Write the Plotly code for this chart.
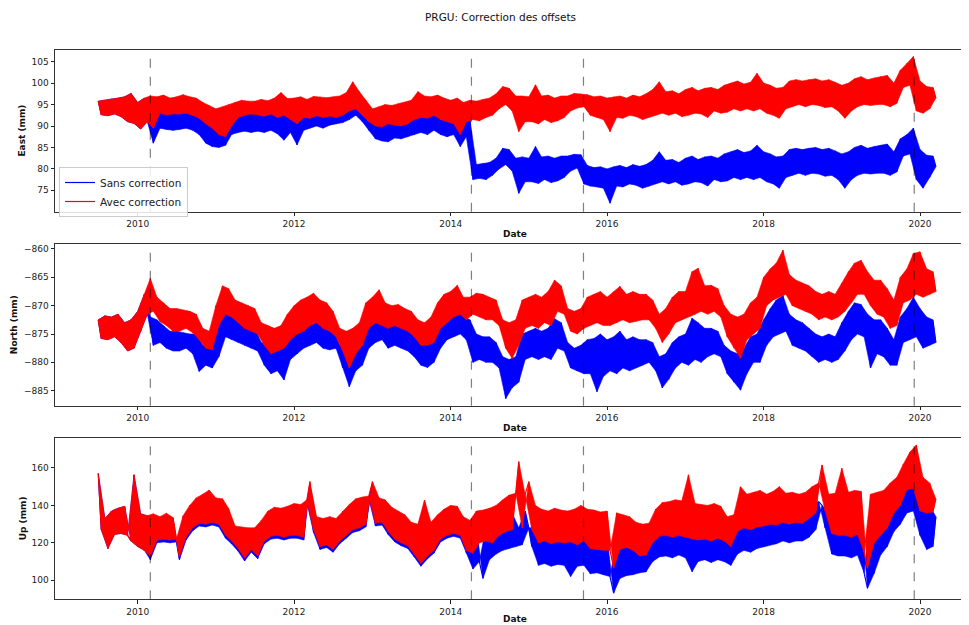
import pandas as pd
import plotly.graph_objects as go

# ---------------- data ----------------
title_text = "PRGU: Correction des offsets"
series_start = "2009-07-01"          # semi-monthly samples (1st and 15th), alternating high / low readings
n_points = 258
offset_dates = ["2010-03-01", "2014-04-08", "2015-09-13", "2019-12-05"]
x_tick_years = [2010, 2012, 2014, 2016, 2018, 2020]
east_ticks = [75, 80, 85, 90, 95, 100, 105]
north_ticks = [-885, -880, -875, -870, -865, -860]
up_ticks = [100, 120, 140, 160]

east_avec = [
    95.8, 92.6, 96.0, 92.4, 96.3, 92.8, 96.5, 92.2, 96.8, 91.0, 97.6, 90.6,
    95.5, 89.3, 96.5, 91.0, 97.0, 89.5, 96.8, 93.0, 97.2, 92.6, 96.5, 92.8,
    96.8, 92.8, 97.3, 93.0, 96.8, 92.5, 96.5, 91.8, 95.5, 90.5, 94.8, 89.5,
    94.0, 88.0, 94.5, 87.5, 95.0, 90.0, 95.5, 92.0, 96.0, 92.5, 95.8, 92.8,
    95.8, 92.6, 96.2, 92.3, 95.9, 92.8, 96.5, 92.0, 97.8, 92.5, 96.4, 91.5,
    96.5, 90.5, 96.8, 92.0, 96.2, 91.8, 96.9, 92.4, 96.8, 92.0, 96.6, 92.3,
    96.8, 92.0, 97.0, 92.5, 97.8, 93.5, 100.3, 94.0, 98.0, 92.5, 96.0, 91.0,
    94.0, 90.0, 94.5, 89.8, 95.0, 90.5, 94.8, 90.2, 95.2, 90.0, 95.5, 90.5,
    96.0, 91.5, 98.0, 92.0, 97.0, 91.8, 96.8, 92.5, 97.2, 91.5, 96.5, 91.0,
    96.0, 90.5, 96.5, 88.0, 95.5, 91.0, 96.0, 91.5, 95.8, 91.2, 96.2, 92.0,
    96.5, 92.5, 97.5, 94.0, 99.2, 95.0, 98.8, 93.5, 97.0, 88.7, 97.0, 91.0,
    96.8, 91.0, 99.6, 90.5, 97.0, 91.5, 97.2, 90.8, 96.5, 91.2, 97.0, 92.0,
    97.0, 93.5, 97.6, 94.2, 97.5, 94.5, 97.3, 92.5, 96.8, 92.0, 97.0, 91.5,
    96.5, 88.7, 96.8, 92.0, 97.0, 91.8, 96.5, 92.5, 97.2, 92.2, 96.8, 91.5,
    97.5, 92.0, 98.5, 92.5, 100.3, 93.0, 98.0, 92.5, 98.2, 93.0, 97.5, 92.2,
    98.5, 92.5, 99.0, 93.0, 98.2, 92.8, 98.8, 92.0, 99.0, 93.5, 98.5, 93.0,
    99.5, 93.2, 100.0, 94.0, 100.5, 93.5, 99.8, 94.0, 100.2, 93.5, 102.3, 94.0,
    100.0, 93.0, 99.5, 92.5, 98.8, 91.8, 99.0, 94.0, 100.5, 94.5, 100.8, 95.0,
    100.5, 94.5, 100.8, 95.0, 101.0, 94.8, 100.5, 94.3, 100.8, 94.5, 100.2, 93.5,
    99.5, 91.8, 100.0, 93.5, 101.0, 94.5, 101.5, 95.0, 100.8, 94.8, 101.2, 95.0,
    101.5, 95.0, 101.8, 94.5, 100.0, 95.3, 103.0, 99.0, 104.6, 99.5, 106.2, 93.5,
    100.5, 93.0, 99.2, 94.0, 99.0, 96.5,
]

east_sans = [
    95.8, 92.6, 96.0, 92.4, 96.3, 92.8, 96.5, 92.2, 96.8, 91.0, 97.6, 90.6,
    95.5, 89.3, 96.5, 91.0, 93.5, 86.0, 93.2, 89.5, 93.0, 89.2, 93.5, 89.0,
    93.5, 89.2, 94.0, 89.5, 93.2, 89.0, 92.5, 88.0, 91.5, 86.0, 90.5, 85.2,
    90.0, 85.0, 90.5, 85.5, 91.5, 88.0, 92.5, 88.5, 93.0, 88.8, 92.8, 88.5,
    92.8, 88.8, 93.0, 88.5, 92.5, 89.0, 93.2, 88.2, 93.5, 86.7, 93.0, 88.5,
    93.0, 85.6, 93.5, 89.0, 93.2, 89.5, 93.8, 90.0, 93.5, 89.5, 93.4, 90.2,
    93.5, 90.5, 93.8, 90.8, 94.5, 91.5, 95.8, 92.5, 95.0, 91.0, 93.2, 89.0,
    91.0, 87.0, 91.5, 86.5, 91.2, 86.3, 91.0, 87.2, 91.5, 87.0, 92.0, 87.5,
    92.5, 88.0, 94.0, 88.5, 93.5, 88.0, 93.7, 89.0, 93.0, 88.0, 92.5, 87.5,
    92.5, 88.0, 92.0, 85.2, 92.3, 87.5, 91.5, 77.5, 81.0, 77.8, 81.3, 77.5,
    81.5, 78.5, 82.5, 80.0, 84.8, 81.0, 84.5, 79.5, 82.5, 74.3, 82.8, 77.0,
    82.5, 77.0, 85.2, 76.6, 82.8, 77.5, 83.0, 76.8, 82.5, 77.2, 83.0, 78.0,
    83.0, 79.5, 83.4, 80.2, 83.3, 76.5, 80.8, 76.0, 80.3, 75.8, 80.5, 75.5,
    80.0, 72.0, 80.5, 76.0, 80.8, 75.8, 80.3, 76.5, 81.0, 76.2, 80.6, 75.5,
    81.0, 76.0, 82.0, 76.5, 84.0, 77.0, 82.0, 76.5, 82.2, 77.0, 81.5, 76.2,
    82.5, 76.5, 83.0, 77.0, 82.2, 76.8, 82.8, 76.0, 83.0, 77.5, 82.5, 77.0,
    83.5, 77.2, 84.0, 78.0, 84.5, 77.5, 83.8, 78.0, 84.2, 77.5, 85.5, 78.0,
    84.0, 77.0, 83.5, 76.5, 82.8, 75.5, 83.0, 78.0, 84.5, 78.5, 84.8, 79.0,
    84.5, 78.5, 84.8, 79.0, 85.0, 78.8, 84.5, 78.3, 84.8, 78.5, 84.2, 77.5,
    83.5, 75.5, 84.0, 77.5, 85.0, 78.5, 85.5, 79.0, 84.8, 78.8, 85.2, 79.0,
    85.5, 79.0, 85.8, 78.5, 84.0, 79.3, 87.0, 83.0, 88.0, 83.5, 89.5, 77.5,
    84.5, 75.5, 83.2, 78.0, 83.0, 80.5,
]

north_avec = [
    -872.5, -875.8, -871.8, -876.0, -872.0, -875.5, -871.5, -876.5, -873.0, -878.0, -872.5, -877.5,
    -871.0, -874.5, -868.0, -871.5, -865.2, -871.0, -868.5, -872.8, -869.5, -873.5, -870.5, -874.5,
    -870.5, -874.5, -870.8, -874.0, -871.0, -874.8, -871.5, -876.0, -874.0, -877.5, -874.5, -877.8,
    -870.0, -873.5, -866.5, -871.5, -867.0, -872.0, -869.0, -873.0, -869.5, -874.0, -870.0, -874.5,
    -870.5, -875.0, -873.0, -877.0, -873.5, -878.5, -874.0, -878.0, -873.5, -877.5, -871.5, -876.0,
    -870.0, -875.0, -869.0, -874.5, -868.5, -873.5, -867.8, -873.0, -869.0, -874.0, -869.5, -874.5,
    -871.0, -875.5, -874.0, -878.0, -874.5, -881.0, -874.0, -878.5, -873.0, -877.0, -869.5, -874.0,
    -868.5, -873.0, -867.2, -873.5, -869.5, -874.0, -870.0, -873.5, -869.8, -874.0, -870.5, -874.5,
    -871.0, -875.5, -872.5, -877.0, -873.0, -877.0, -872.0, -876.5, -869.5, -874.0, -868.0, -873.0,
    -867.5, -872.0, -866.4, -871.5, -868.5, -872.5, -868.5, -871.5, -867.8, -872.0, -868.0, -872.5,
    -868.5, -872.5, -869.0, -873.5, -872.5, -877.5, -873.0, -879.3, -872.5, -877.0, -869.0, -874.0,
    -868.5, -873.5, -868.0, -874.0, -868.5, -873.0, -867.5, -873.5, -865.5, -871.0, -866.5, -871.5,
    -870.5, -874.5, -871.0, -875.0, -870.5, -874.0, -868.5, -873.5, -868.0, -873.0, -867.5, -873.5,
    -868.5, -873.5, -867.5, -873.0, -866.6, -872.5, -868.0, -873.0, -867.5, -872.8, -868.0, -872.5,
    -868.0, -872.5, -869.0, -874.0, -871.5, -876.5, -870.5, -875.0, -868.5, -873.0, -867.5, -872.5,
    -867.5, -872.0, -864.0, -871.5, -863.4, -871.0, -866.5, -871.5, -866.4, -871.0, -867.0, -872.0,
    -870.0, -875.5, -871.5, -877.5, -872.0, -879.3, -871.5, -876.0, -869.5, -875.0, -868.5, -874.0,
    -865.0, -870.0, -863.5, -869.0, -862.5, -868.5, -860.2, -868.0, -864.5, -870.0, -865.5, -870.5,
    -866.0, -871.0, -866.5, -871.5, -867.5, -872.5, -868.0, -872.0, -867.5, -872.5, -868.0, -872.0,
    -866.0, -871.0, -864.0, -869.5, -862.5, -868.0, -862.0, -868.0, -864.0, -870.0, -865.5, -871.5,
    -865.5, -872.0, -867.0, -874.0, -869.0, -873.5, -865.0, -869.5, -863.5, -869.0, -860.8, -868.0,
    -860.5, -868.5, -863.5, -868.0, -864.0, -867.5,
]

north_sans = [
    -872.5, -875.8, -871.8, -876.0, -872.0, -875.5, -871.5, -876.5, -873.0, -878.0, -872.5, -877.5,
    -871.0, -874.5, -868.0, -871.5, -872.0, -877.0, -872.5, -876.5, -873.5, -877.5, -874.5, -878.0,
    -874.5, -878.0, -874.8, -877.5, -875.0, -878.5, -875.0, -881.6, -877.0, -880.5, -877.5, -881.0,
    -874.5, -879.0, -870.5, -875.5, -871.0, -876.0, -872.5, -876.5, -873.0, -877.0, -873.5, -877.5,
    -874.0, -878.0, -876.5, -880.5, -877.0, -882.0, -877.5, -881.5, -877.0, -883.1, -874.5, -879.5,
    -873.5, -878.5, -872.5, -877.5, -872.0, -877.0, -871.8, -876.5, -872.5, -877.5, -873.5, -877.8,
    -874.0, -877.5, -877.0, -881.0, -877.5, -884.3, -877.0, -881.5, -876.5, -880.5, -873.0, -877.5,
    -872.0, -876.5, -870.8, -876.0, -873.0, -877.5, -873.5, -877.0, -873.0, -877.5, -874.0, -878.0,
    -874.5, -879.0, -875.5, -880.5, -876.0, -880.9, -875.5, -880.0, -873.0, -877.5, -871.5, -876.0,
    -871.0, -875.5, -870.2, -875.0, -872.0, -876.0, -872.5, -880.0, -875.0, -879.5, -875.5, -880.0,
    -875.5, -880.0, -876.5, -881.0, -879.0, -886.4, -879.5, -884.5, -879.0, -883.5, -875.0, -879.5,
    -874.5, -879.0, -874.0, -879.5, -874.5, -879.0, -874.0, -879.5, -872.3, -877.5, -873.0, -878.0,
    -876.5, -881.0, -877.5, -881.5, -877.0, -882.0, -876.0, -882.0, -875.8, -885.2, -875.0, -882.5,
    -876.0, -881.5, -875.5, -882.0, -874.5, -881.0, -876.0, -881.5, -875.5, -881.0, -876.0, -880.5,
    -876.0, -880.0, -876.5, -881.5, -879.0, -884.5, -878.5, -883.0, -876.5, -881.0, -875.5, -880.0,
    -875.0, -880.5, -872.2, -879.5, -873.0, -880.0, -874.0, -879.0, -874.0, -878.5, -874.5, -879.0,
    -877.0, -882.0, -878.0, -883.5, -878.5, -884.9, -877.5, -882.0, -875.5, -880.0, -875.0, -880.0,
    -872.5, -877.0, -870.5, -875.5, -869.0, -875.0, -868.2, -874.5, -871.5, -877.0, -872.5, -877.5,
    -873.0, -878.0, -874.0, -879.0, -875.0, -880.0, -875.5, -879.5, -875.0, -880.0, -875.5, -879.5,
    -873.0, -878.0, -871.0, -876.0, -869.5, -875.0, -869.8, -875.5, -871.5, -881.0, -872.5, -878.5,
    -872.5, -879.0, -874.0, -880.5, -876.0, -880.5, -872.0, -876.5, -870.5, -876.0, -868.5, -875.5,
    -870.5, -877.5, -872.0, -877.0, -872.5, -876.5,
]

up_avec = [
    157.0, 127.0, 133.0, 117.0, 137.0, 124.5, 138.5, 125.0, 139.5, 124.0, 121.0, 156.3,
    118.0, 135.5, 116.0, 134.5, 112.6, 135.5, 121.5, 134.0, 122.0, 135.8, 121.5, 133.5,
    122.0, 112.6, 134.5, 123.0, 140.0, 128.0, 144.0, 130.5, 146.0, 130.0, 148.2, 131.0,
    144.0, 130.0, 143.5, 124.0, 138.5, 121.0, 129.0, 117.0, 128.5, 111.8, 128.0, 116.5,
    128.0, 113.0, 132.0, 121.0, 137.0, 123.5, 139.0, 124.0, 138.5, 123.0, 139.5, 124.0,
    141.0, 124.0, 140.5, 123.0, 143.0, 152.7, 127.0, 134.0, 118.0, 133.0, 119.0, 134.0,
    116.5, 133.0, 121.0, 137.0, 124.0, 140.5, 127.0, 143.5, 128.0, 144.5, 130.0, 145.0,
    152.7, 130.5, 144.0, 131.0, 143.0, 126.0, 139.0, 122.0, 137.0, 120.0, 135.0, 118.5,
    131.0, 114.0, 130.0, 109.0, 142.9, 113.0, 131.0, 116.0, 135.0, 122.0, 138.0, 124.0,
    140.0, 125.0, 139.5, 124.0, 134.0, 116.0, 132.0, 114.5, 137.0, 120.0, 137.5, 121.0,
    138.5, 120.0, 140.0, 124.0, 143.0, 126.0, 145.5, 127.0, 146.5, 163.4, 128.0, 146.0,
    152.7, 127.0, 140.0, 120.0, 138.0, 121.0, 137.0, 119.5, 138.5, 120.5, 137.5, 120.0,
    137.0, 120.5, 138.0, 119.0, 140.0, 121.0, 138.0, 117.0, 137.5, 116.5, 136.5, 116.0,
    137.0, 116.0, 106.5, 136.0, 116.5, 135.0, 117.5, 134.0, 116.0, 131.0, 113.0, 130.0,
    113.5, 130.5, 120.0, 138.0, 123.5, 141.5, 124.0, 142.0, 123.0, 143.0, 124.0, 142.5,
    123.0, 156.3, 122.0, 141.0, 121.5, 140.5, 122.0, 140.0, 121.0, 141.0, 122.5, 139.5,
    121.0, 134.0, 118.0, 135.0, 126.0, 150.0, 128.0, 146.0, 127.0, 147.0, 128.5, 148.0,
    129.0, 146.0, 130.0, 147.5, 129.5, 150.0, 131.0, 146.5, 130.0, 147.0, 131.0, 146.0,
    130.5, 147.0, 133.0, 150.0, 136.0, 152.0, 161.6, 137.0, 146.0, 125.0, 146.5, 124.0,
    159.8, 124.0, 147.0, 123.0, 148.0, 124.5, 147.5, 115.0, 106.4, 146.0, 120.0, 147.0,
    124.0, 148.0, 128.0, 152.0, 136.0, 155.0, 140.0, 162.0, 148.5, 168.5, 149.0, 172.3,
    137.0, 155.0, 136.0, 152.0, 136.5, 143.5,
]

up_sans = [
    157.0, 127.0, 133.0, 117.0, 137.0, 124.5, 138.5, 125.0, 139.5, 124.0, 121.0, 156.3,
    118.0, 135.5, 116.0, 134.5, 111.0, 134.0, 120.0, 132.5, 120.5, 134.3, 120.0, 132.0,
    120.5, 111.0, 133.0, 121.5, 138.5, 126.5, 142.5, 129.0, 144.5, 128.5, 146.7, 129.5,
    142.5, 128.5, 142.0, 122.5, 137.0, 119.5, 127.5, 115.5, 127.0, 110.3, 126.5, 115.0,
    126.5, 111.5, 130.5, 119.5, 135.5, 122.0, 137.5, 122.5, 137.0, 121.5, 138.0, 122.5,
    139.5, 122.5, 139.0, 121.5, 141.5, 151.2, 125.5, 132.5, 116.5, 131.5, 117.5, 132.5,
    115.0, 131.5, 119.5, 135.5, 122.5, 139.0, 125.5, 142.0, 126.5, 143.0, 128.5, 143.5,
    151.2, 129.0, 142.5, 129.5, 141.5, 124.5, 137.5, 120.5, 135.5, 118.5, 133.5, 117.0,
    129.5, 112.5, 128.5, 107.5, 141.4, 111.5, 129.5, 114.5, 133.5, 120.5, 136.5, 122.5,
    138.5, 123.5, 138.0, 122.5, 132.5, 114.5, 130.5, 106.0, 128.0, 110.0, 101.0, 128.5,
    111.0, 128.0, 114.0, 131.0, 116.0, 134.0, 117.0, 136.0, 118.0, 128.0, 119.0, 137.0,
    128.0, 118.0, 128.0, 108.0, 124.0, 109.0, 123.5, 107.5, 124.0, 108.5, 123.0, 108.0,
    123.0, 102.0, 124.0, 107.5, 125.0, 108.0, 123.5, 103.5, 122.5, 104.0, 123.0, 103.0,
    123.0, 102.0, 93.1, 121.5, 101.0, 122.0, 102.5, 121.0, 103.0, 120.0, 104.0, 119.5,
    104.5, 121.0, 110.0, 127.0, 112.5, 128.0, 113.0, 128.5, 112.0, 129.0, 113.5, 128.0,
    112.0, 126.0, 104.6, 127.0, 110.0, 126.5, 111.0, 126.0, 109.5, 127.0, 111.0, 126.0,
    110.0, 120.5, 108.0, 122.0, 114.0, 134.0, 116.0, 133.0, 115.0, 134.5, 117.0, 135.0,
    118.0, 137.0, 119.0, 138.0, 119.5, 139.5, 121.0, 139.0, 120.0, 139.5, 121.0, 139.0,
    121.0, 139.0, 123.0, 141.0, 127.0, 142.0, 140.0, 128.0, 136.5, 114.0, 137.0, 113.0,
    136.0, 113.0, 136.0, 112.0, 137.0, 113.5, 136.5, 104.0, 95.7, 135.0, 103.7, 136.0,
    113.5, 137.0, 118.0, 141.0, 126.0, 144.0, 130.0, 150.0, 136.0, 153.5, 137.0, 150.0,
    124.0, 144.0, 116.5, 140.0, 118.0, 134.0,
]

panels = [
    ("East (mm)", east_sans, east_avec, east_ticks, [70.02, 107.72]),
    ("North (mm)", north_sans, north_avec, north_ticks, [-887.65, -859.12]),
    ("Up (mm)", up_sans, up_avec, up_ticks, [89.85, 176.0]),
]

# ---------------- figure ----------------
# the page has an 8 px body margin, so the figure is 8 px smaller on each side
PAGE_OFF = 8
W, H = 969 - PAGE_OFF, 625 - PAGE_OFF


def px(x):            # page pixel x -> paper fraction
    return (x - PAGE_OFF) / W


def py(y):            # page pixel y (from top) -> paper fraction
    return 1 - (y - PAGE_OFF) / H


dates = pd.date_range(series_start, periods=n_points, freq="SMS")
for _, s, a, _, _ in panels:
    assert len(s) == n_points and len(a) == n_points

FONT = "DejaVu Sans"
BLUE, RED = "#0000ff", "#ff0000"
x_left, x_right = 55, 968
panel_px = [(50, 211.7), (244, 405.7), (438, 599.3)]
x_range = ["2008-12-11", "2020-08-12"]

fig = go.Figure()
layout = dict(
    width=W, height=H, margin=dict(l=0, r=0, t=0, b=0, autoexpand=False),
    paper_bgcolor="white", plot_bgcolor="white",
    font=dict(family=FONT, size=9, color="#222"),
    showlegend=True,
    legend=dict(x=px(59), y=py(167), xanchor="left", yanchor="top",
                bgcolor="rgba(255,255,255,0.85)", bordercolor="#cccccc", borderwidth=1,
                font=dict(family=FONT, size=10.5, color="#222"),
                tracegroupgap=0, itemwidth=30),
)
shapes, annotations = [], []


def band_trace(values, color, xa, ya):
    # filled band between the high readings and the low readings of one series
    hi_x, hi_y = list(dates[0::2]), values[0::2]
    lo_x, lo_y = list(dates[1::2]), values[1::2]
    return go.Scatter(x=hi_x + lo_x[::-1], y=hi_y + lo_y[::-1], mode="lines",
                      fill="toself", fillcolor=color, line=dict(color=color, width=0.6),
                      xaxis=xa, yaxis=ya, showlegend=False, hoverinfo="skip")


for i, (ylabel, sans, avec, yticks, yr) in enumerate(panels):
    n = i + 1
    xa = "x" if n == 1 else f"x{n}"
    ya = "y" if n == 1 else f"y{n}"
    top, bot = panel_px[i]
    fig.add_trace(band_trace(sans, BLUE, xa, ya))
    fig.add_trace(go.Scatter(x=dates, y=sans, mode="lines", name="Sans correction",
                             line=dict(color=BLUE, width=1.2), xaxis=xa, yaxis=ya,
                             showlegend=(n == 1), legendgroup="sans"))
    fig.add_trace(band_trace(avec, RED, xa, ya))
    fig.add_trace(go.Scatter(x=dates, y=avec, mode="lines", name="Avec correction",
                             line=dict(color=RED, width=1.2), xaxis=xa, yaxis=ya,
                             showlegend=(n == 1), legendgroup="avec"))
    axis_common = dict(showline=True, mirror=True, linecolor="#333", linewidth=1,
                       showgrid=False, zeroline=False, ticks="outside", ticklen=3.5,
                       tickwidth=1, tickcolor="#222", automargin=False,
                       tickfont=dict(family=FONT, size=9, color="#222"))
    layout["xaxis" if n == 1 else f"xaxis{n}"] = dict(
        axis_common, type="date", range=x_range,
        domain=[px(x_left), px(x_right)], anchor=ya,
        tickvals=[f"{y}-01-01" for y in x_tick_years],
        ticktext=[str(y) for y in x_tick_years])
    layout["yaxis" if n == 1 else f"yaxis{n}"] = dict(
        axis_common, range=yr, domain=[py(bot), py(top)], anchor=xa,
        tickvals=yticks)
    for d in offset_dates:
        shapes.append(dict(type="line", xref=xa, yref=f"{ya} domain", x0=d, x1=d, y0=0, y1=1,
                           line=dict(color="rgba(0,0,0,0.5)", width=1.2, dash="dash")))
    ytitle_x = {0: 21.7, 1: 14.3, 2: 22.7}[i]
    annotations.append(dict(text=f"<b>{ylabel}</b>", x=px(ytitle_x), y=py((top + bot) / 2),
                            xref="paper", yref="paper", textangle=-90, showarrow=False,
                            xanchor="center", yanchor="middle",
                            font=dict(family=FONT, size=9, color="#111")))
    date_y = bot + 22.5 if n < 3 else 619
    annotations.append(dict(text="<b>Date</b>", x=px(515), y=py(date_y),
                            xref="paper", yref="paper", showarrow=False,
                            xanchor="center", yanchor="middle",
                            font=dict(family=FONT, size=9, color="#111")))

annotations.append(dict(text=title_text, x=px(501), y=py(17), xref="paper", yref="paper",
                        showarrow=False, xanchor="center", yanchor="middle",
                        font=dict(family=FONT, size=10.5, color="#111")))
layout["shapes"] = shapes
layout["annotations"] = annotations
fig.update_layout(**layout)
fig.write_html("out.html")
